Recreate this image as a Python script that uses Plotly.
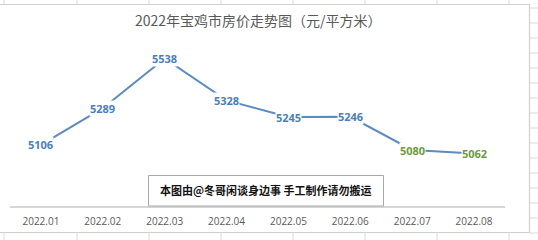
import plotly.graph_objects as go

months = ["2022.01", "2022.02", "2022.03", "2022.04", "2022.05", "2022.06", "2022.07", "2022.08"]
prices = [5106, 5289, 5538, 5328, 5245, 5246, 5080, 5062]
label_colors = ["#4a7ebb"] * 6 + ["#6e9a3c"] * 2
title_text = "2022年宝鸡市房价走势图（元/平方米）"
watermark = "本图由@冬哥闲谈身边事 手工制作请勿搬运"

W, H = 538, 240
L, R, T, B = 10, 33, 46, 34
PW, PH = W - L - R, H - T - B


def px(x):
    return (x - L) / PW


def py(y):
    return (H - B - y) / PH


fig = go.Figure()
fig.add_trace(go.Scatter(
    x=months, y=prices, mode="lines",
    line=dict(color="#5b8cc0", width=2),
    hoverinfo="skip", showlegend=False,
))

annotations = []
for i, (v, c) in enumerate(zip(prices, label_colors)):
    annotations.append(dict(
        x=i, y=v, xref="x", yref="y", text="<b>" + str(v) + "</b>", showarrow=False,
        font=dict(family="Open Sans", size=11, color=c),
        bgcolor="white", borderpad=0, xanchor="center", yanchor="middle",
    ))

annotations.append(dict(
    x=px(258), y=py(20), xref="paper", yref="paper", text=title_text,
    showarrow=False, xanchor="center", yanchor="middle",
    font=dict(family="Noto Sans CJK SC", size=14, color="#595959"),
))
annotations.append(dict(
    x=px(265.5), y=py(190), xref="paper", yref="paper", text="<b>" + watermark + "</b>",
    showarrow=False, xanchor="center", yanchor="middle",
    font=dict(family="Noto Sans CJK SC", size=11, color="#111111"),
))

shapes = []
grid_col = "#dadada"
for gx in [4, 77, 149, 221, 293, 365, 437, 509]:
    shapes.append(dict(type="line", xref="paper", yref="paper",
                       x0=px(gx), x1=px(gx), y0=py(232.5), y1=py(240),
                       line=dict(color=grid_col, width=1), layer="below"))
    shapes.append(dict(type="line", xref="paper", yref="paper",
                       x0=px(gx), x1=px(gx), y0=py(0), y1=py(4.5),
                       line=dict(color=grid_col, width=1), layer="below"))
gy = 8
while gy < 240:
    shapes.append(dict(type="line", xref="paper", yref="paper",
                       x0=px(529.5), x1=px(538), y0=py(gy), y1=py(gy),
                       line=dict(color=grid_col, width=1), layer="below"))
    gy += 15
shapes.append(dict(type="rect", xref="paper", yref="paper",
                   x0=px(-2), x1=px(529.5), y0=py(232.5), y1=py(4.5),
                   line=dict(color="#cfcfcf", width=1.2), layer="below"))
shapes.append(dict(type="rect", xref="paper", yref="paper",
                   x0=px(148.5), x1=px(383.5), y0=py(206), y1=py(175.5),
                   line=dict(color="#a8a8a8", width=1), fillcolor="white", layer="above"))

fig.update_layout(
    width=W, height=H,
    margin=dict(l=L, r=R, t=T, b=B),
    paper_bgcolor="white", plot_bgcolor="white",
    annotations=annotations, shapes=shapes,
    xaxis=dict(type="category", range=[-0.5, 7.5], showgrid=False, zeroline=False,
               showline=True, linecolor="#d6d6d6", linewidth=1.5, ticks="",
               tickfont=dict(family="Open Sans", size=10, color="#595959"),
               ticklabelstandoff=5, fixedrange=True),
    yaxis=dict(range=[4800, 5600], visible=False, showgrid=False, zeroline=False, fixedrange=True),
    font=dict(family="Noto Sans CJK SC"),
)

fig.write_html("out.html", config={"displayModeBar": False})
